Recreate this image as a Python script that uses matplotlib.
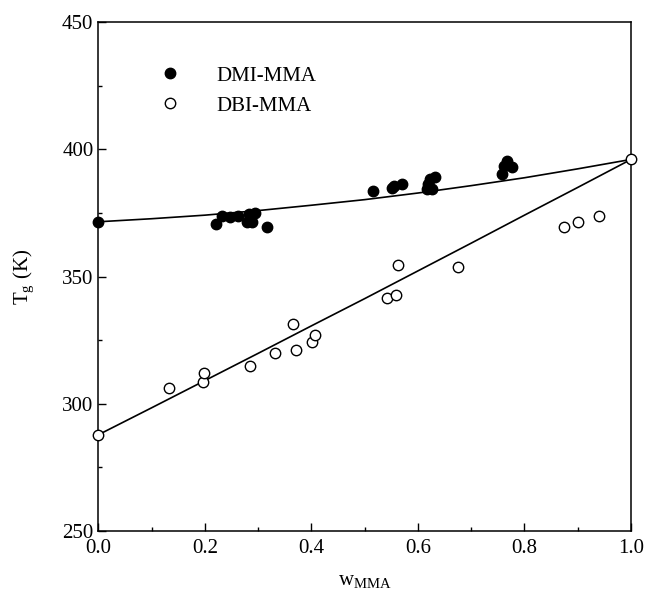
import matplotlib.pyplot as plt
import numpy as np

plt.rcParams['font.family'] = ['Liberation Serif', 'DejaVu Serif']
plt.rcParams['mathtext.fontset'] = 'custom'
plt.rcParams['mathtext.rm'] = 'Liberation Serif'

# DMI-MMA copolymers (filled)
dmi_w = [0.0, 0.221, 0.232, 0.247, 0.263, 0.282, 0.294, 0.288, 0.279, 0.316,
         0.515, 0.551, 0.555, 0.570, 0.617, 0.618, 0.623, 0.626, 0.632,
         0.757, 0.761, 0.767, 0.777]
dmi_tg = [371.5, 370.6, 373.6, 373.2, 373.6, 374.5, 374.9, 371.3, 371.5, 369.3,
          383.6, 384.6, 385.5, 386.5, 384.3, 386.3, 388.2, 384.3, 389.0,
          390.2, 393.5, 395.4, 393.1]

# DBI-MMA copolymers (open)
dbi_w = [0.0, 0.133, 0.197, 0.199, 0.284, 0.331, 0.366, 0.372, 0.401, 0.406,
         0.542, 0.558, 0.563, 0.676, 0.875, 0.901, 0.939, 1.0]
dbi_tg = [287.8, 306.2, 308.5, 312.0, 314.8, 320.0, 331.5, 321.3, 324.4, 327.0,
          341.6, 342.7, 354.5, 353.7, 369.3, 371.6, 373.8, 396.0]

# fitted curves
fit_w = [0.0, 0.1, 0.2, 0.3, 0.4, 0.5, 0.6, 0.7, 0.8, 0.9, 1.0]
fit_dmi = [371.5, 372.7, 374.1, 375.9, 378.0, 380.2, 382.8, 385.7, 388.8, 392.3, 396.0]
fit_dbi = [287.8, 298.4, 309.1, 319.8, 330.6, 341.3, 352.2, 363.1, 374.1, 385.0, 396.0]

fig = plt.figure(figsize=(6.45, 5.95), dpi=100)
ax = fig.add_axes([98.3 / 645, 1 - 531 / 595, (631 - 98.3) / 645, (531 - 22) / 595])

ax.plot(fit_w, fit_dmi, color='black', lw=1.2, zorder=1)
ax.plot(fit_w, fit_dbi, color='black', lw=1.2, zorder=1)
ax.plot(dmi_w, dmi_tg, 'o', color='black', ms=7.5, ls='none', clip_on=False,
        zorder=3, label='DMI-MMA')
ax.plot(dbi_w, dbi_tg, 'o', mfc='white', mec='black', mew=1.0, ms=7.5, ls='none',
        clip_on=False, zorder=4, label='DBI-MMA')

ax.set_xlim(0, 1.0)
ax.set_ylim(250, 450)
ax.set_xticks(np.arange(0, 1.01, 0.2))
ax.set_xticks(np.arange(0.1, 1.0, 0.2), minor=True)
ax.set_yticks([250, 300, 350, 400, 450])
ax.set_yticks([275, 325, 375, 425], minor=True)
ax.set_xticklabels(['0.0', '0.2', '0.4', '0.6', '0.8', '1.0'])
ax.tick_params(direction='in', labelsize=15, length=6, width=1, top=False, right=False)
ax.tick_params(which='minor', direction='in', length=3, width=1)
ax.tick_params(axis='x', pad=6)
for s in ax.spines.values():
    s.set_linewidth(1.1)

ax.set_xlabel(r'w$_{\rm MMA}$', fontsize=15, labelpad=10)
ax.set_ylabel(r'T$_{\rm g}$ (K)', fontsize=15, labelpad=18)

ax.legend(loc='upper left', bbox_to_anchor=(0.08, 0.93), frameon=False, fontsize=15,
          handletextpad=1.2, labelspacing=0.5, borderaxespad=0)

fig.savefig('out.png', dpi=100)
